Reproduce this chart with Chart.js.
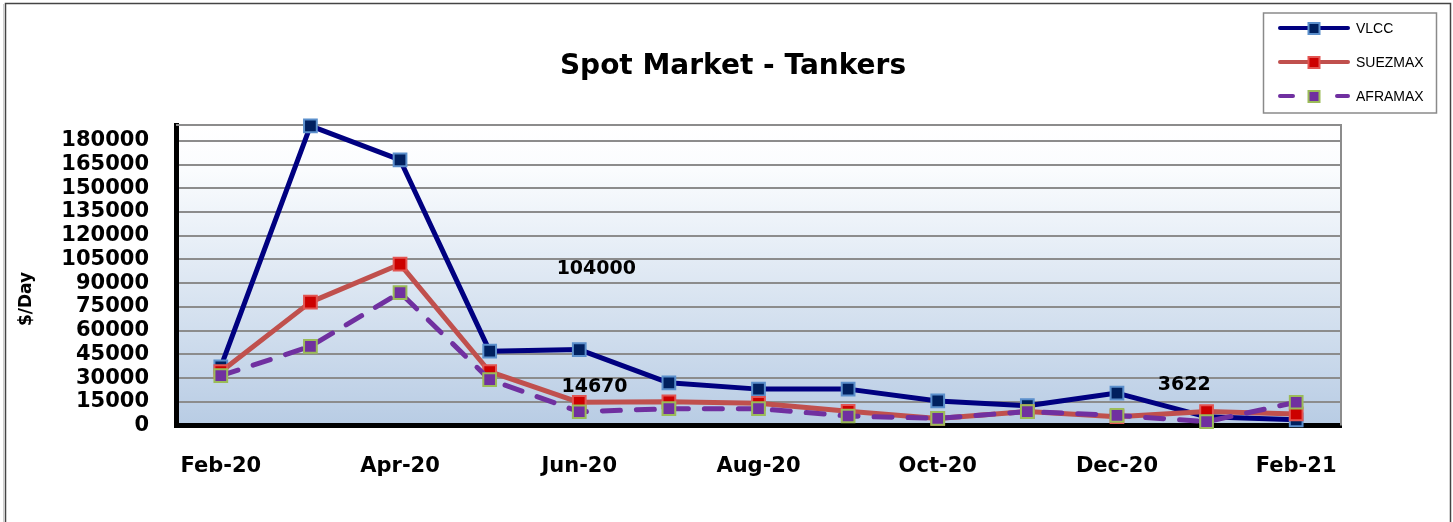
<!DOCTYPE html>
<html>
<head>
<meta charset="utf-8">
<script src="https://cdn.jsdelivr.net/npm/chart.js@4.4.1/dist/chart.umd.min.js"></script>
<style>
  html, body { margin: 0; padding: 0; background: #fff; }
  #wrap { position: relative; width: 1453px; height: 522px; }
</style>
</head>
<body>
<div id="wrap"><canvas id="myChart"></canvas></div>
<script>
let months = [
    "Feb-20", "Mar-20", "Apr-20", "May-20", "Jun-20", "Jul-20", "Aug-20",
    "Sep-20", "Oct-20", "Nov-20", "Dec-20", "Jan-21", "Feb-21"
];
let shownMonths = ["Feb-20", "Apr-20", "Jun-20", "Aug-20", "Oct-20", "Dec-20", "Feb-21"];

let vlccRates    = [37000, 189500, 168000, 47000, 48000, 27000, 23000, 23000, 15500, 12500, 20500, 5500, 3622];
let suezmaxRates = [34000, 78000, 102000, 34000, 14670, 15000, 14000, 9000, 4500, 8800, 5600, 8800, 7300];
let aframaxRates = [31500, 50000, 84000, 29000, 8700, 10600, 10600, 6000, 4500, 8800, 6400, 2400, 14700];

let yTickValues = [0, 15000, 30000, 45000, 60000, 75000, 90000, 105000, 120000, 135000, 150000, 165000, 180000];
let yMax = 190000;

let noteTexts = ["104000", "14670", "3622"];

Chart.defaults.font.family = "'DejaVu Sans', sans-serif";
Chart.defaults.color = '#000';

// where the floating value labels sit (category index, value)
const noteAnchors = [[4.19, 99000], [4.17, 24400], [10.75, 25600]];

const decorPlugin = {
    id: 'decor',
    beforeDraw(chart) {
        const ctx = chart.ctx;
        const a = chart.chartArea;
        ctx.save();
        // outer frame
        ctx.strokeStyle = '#cfcfcf';
        ctx.lineWidth = 1;
        ctx.beginPath(); ctx.moveTo(3.5, 4); ctx.lineTo(3.5, 522); ctx.stroke();
        ctx.strokeStyle = '#444';
        ctx.lineWidth = 1.5;
        ctx.strokeRect(5.5, 3.5, 1445, 600);
        // plot background
        const g = ctx.createLinearGradient(0, a.top, 0, a.bottom);
        g.addColorStop(0, '#ffffff');
        g.addColorStop(0.15, '#fafcfe');
        g.addColorStop(1, '#b8cce4');
        ctx.fillStyle = g;
        ctx.fillRect(a.left, a.top, a.right - a.left, a.bottom - a.top);
        ctx.restore();
    },
    beforeDatasetsDraw(chart) {
        const ctx = chart.ctx;
        const a = chart.chartArea;
        ctx.save();
        ctx.strokeStyle = '#8c8c8c';
        ctx.lineWidth = 2;
        ctx.beginPath();
        ctx.moveTo(a.left, a.top);
        ctx.lineTo(a.right, a.top);
        ctx.lineTo(a.right, a.bottom);
        ctx.stroke();
        ctx.restore();
    },
    afterDraw(chart) {
        const ctx = chart.ctx;
        const xs = chart.scales.x, ys = chart.scales.y;
        ctx.save();
        ctx.fillStyle = '#000';
        ctx.textAlign = 'center';
        ctx.textBaseline = 'middle';

        // title
        ctx.font = "bold 28px 'DejaVu Sans'";
        ctx.fillText('Spot Market - Tankers', 733, 67);

        // y axis title
        ctx.save();
        ctx.translate(27, 299);
        ctx.rotate(-Math.PI / 2);
        ctx.font = "bold 17px 'DejaVu Sans'";
        ctx.fillText('$/Day', 0, 0);
        ctx.restore();

        // floating value labels
        ctx.font = "bold 19px 'DejaVu Sans'";
        noteTexts.forEach(function(t, i) {
            const px = xs.getPixelForValue(noteAnchors[i][0]);
            const py = ys.getPixelForValue(noteAnchors[i][1]);
            ctx.fillText(t, px, py);
        });

        // legend
        ctx.strokeStyle = '#8a8a8a';
        ctx.lineWidth = 1.5;
        ctx.strokeRect(1263.5, 13, 173, 100);
        chart.data.datasets.forEach(function(ds, i) {
            const y = 28 + 34 * i;
            ctx.strokeStyle = ds.borderColor;
            ctx.lineWidth = 4;
            ctx.lineCap = 'round';
            ctx.setLineDash(ds.borderDash ? [13, 44] : []);
            ctx.beginPath();
            ctx.moveTo(1280, y);
            ctx.lineTo(1348, y);
            ctx.stroke();
            ctx.setLineDash([]);
            ctx.fillStyle = ds.pointBackgroundColor;
            ctx.fillRect(1308.5, y - 5, 11, 11);
            ctx.strokeStyle = ds.pointBorderColor;
            ctx.lineWidth = 2;
            ctx.strokeRect(1308.5, y - 5, 11, 11);
            ctx.fillStyle = '#000';
            ctx.textAlign = 'left';
            ctx.font = "14px 'Liberation Sans'";
            ctx.fillText(ds.label, 1356, y + 1);
        });
        ctx.restore();
    }
};

var ctx = document.getElementById('myChart').getContext('2d');
var chart = new Chart(ctx, {
    type: 'line',
    data: {
        labels: months,
        datasets: [{
            label: 'VLCC',
            data: vlccRates,
            borderColor: '#000080',
            pointBackgroundColor: '#00205f',
            pointBorderColor: '#5b8fcc',
            order: 2
        }, {
            label: 'SUEZMAX',
            data: suezmaxRates,
            borderColor: '#c0504d',
            pointBackgroundColor: '#cc0000',
            pointBorderColor: '#e25552',
            order: 1
        }, {
            label: 'AFRAMAX',
            data: aframaxRates,
            borderColor: '#7030a0',
            borderDash: [18, 16],
            pointBackgroundColor: '#7030a0',
            pointBorderColor: '#9bbb59',
            order: 0
        }]
    },
    options: {
        responsive: true,
        maintainAspectRatio: false,
        animation: false,
        layout: { padding: { left: 0, right: 112, top: 125, bottom: 0 } },
        elements: {
            line: { borderWidth: 5, tension: 0, fill: false, borderCapStyle: 'round', borderJoinStyle: 'round' },
            point: { pointStyle: 'rect', radius: 9, borderWidth: 2, hoverRadius: 9 }
        },
        datasets: { line: { clip: false } },
        plugins: {
            legend: { display: false },
            title: { display: false },
            tooltip: { enabled: false }
        },
        scales: {
            x: {
                offset: true,
                grid: { display: false, drawTicks: false },
                border: { display: true, color: '#000', width: 5 },
                ticks: {
                    autoSkip: false,
                    maxRotation: 0,
                    padding: 28,
                    font: { size: 21, weight: 'bold' },
                    callback: function(value, index) {
                        return shownMonths.includes(months[index]) ? months[index] : '';
                    }
                },
                afterFit: function(scale) { scale.height = 96.5; }
            },
            y: {
                min: 0,
                max: yMax,
                grid: { color: '#8c8c8c', lineWidth: 2, drawTicks: false },
                border: { display: true, color: '#000', width: 5 },
                ticks: {
                    autoSkip: false,
                    padding: 27,
                    font: { size: 21, weight: 'bold', lineHeight: 1 },
                    callback: function(value) { return String(value); }
                },
                afterBuildTicks: function(scale) {
                    scale.ticks = yTickValues.map(function(v) { return { value: v }; });
                },
                afterFit: function(scale) { scale.width = 176; }
            }
        }
    },
    plugins: [decorPlugin]
});
</script>
</body>
</html>
